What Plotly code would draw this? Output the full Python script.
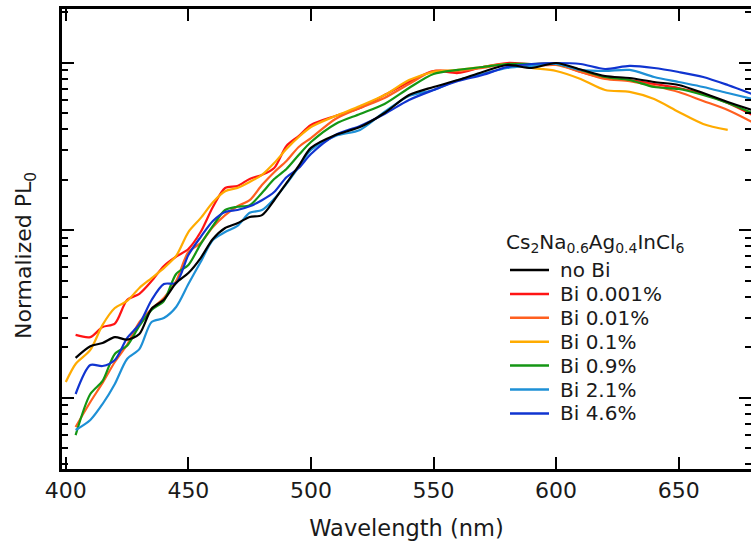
import plotly.graph_objects as go

wavelength = [400, 404, 410, 415, 420, 425, 430, 435, 440, 445, 450, 455, 460, 465, 470, 475, 480,
              485, 490, 495, 500, 510, 520, 530, 540, 550, 560, 570, 580, 590, 600, 610, 620, 630,
              640, 650, 660, 670, 680]

no_bi = [None, 0.0173, 0.0203, 0.0212, 0.0230, 0.0222, 0.0240, 0.0340, 0.0384, 0.0484, 0.0555,
         0.0682, 0.0885, 0.103, 0.110, 0.120, 0.123, 0.151, 0.191, 0.242, 0.310,
         0.370, 0.413, 0.501, 0.641, 0.716, 0.788, 0.880, 0.969, 0.930, 0.996, 0.910, 0.833,
         0.810, 0.767, 0.736, 0.659, 0.583, 0.522]
bi_0001 = [None, 0.0237, 0.0230, 0.0264, 0.0277, 0.0383, 0.0417, 0.0497, 0.0611, 0.0695, 0.0773,
           0.0975, 0.1376, 0.1786, 0.1836, 0.2023, 0.2138, 0.2351, 0.3184, 0.365, 0.425,
           0.481, 0.537, 0.641, 0.767, 0.892, 0.868, 0.943, 0.996, 0.982, 0.982, 0.880, 0.810,
           0.788, 0.746, 0.706, 0.650, 0.575, 0.488]
bi_001 = [None, 0.00668, 0.00942, 0.01225, 0.01633, 0.0207, 0.0283, 0.0339, 0.0394, 0.0497, 0.0741,
          0.0839, 0.1045, 0.123, 0.139, 0.151, 0.186, 0.222, 0.259, 0.314, 0.355,
          0.461, 0.537, 0.616, 0.746, 0.892, 0.892, 0.930, 0.982, 0.956, 0.969, 0.880, 0.799,
          0.777, 0.726, 0.668, 0.591, 0.522, 0.442]
bi_01 = [0.0124, 0.0159, 0.0193, 0.0272, 0.0343, 0.0378, 0.0452, 0.0518, 0.0594, 0.0702, 0.0975,
         0.118, 0.147, 0.171, 0.179, 0.194, 0.214, 0.252, 0.305, 0.360, 0.413,
         0.481, 0.551, 0.641, 0.788, 0.880, 0.905, 0.943, 0.982, 0.930, 0.892, 0.799, 0.687,
         0.670, 0.607, 0.508, 0.431, 0.397, None]
bi_09 = [None, 0.00598, 0.01052, 0.01259, 0.01824, 0.0204, 0.0268, 0.0334, 0.0378, 0.0548, 0.0620,
         0.0826, 0.106, 0.132, 0.138, 0.141, 0.167, 0.202, 0.232, 0.281, 0.336,
         0.431, 0.494, 0.567, 0.706, 0.856, 0.905, 0.943, 0.982, 0.982, 0.982, 0.905, 0.822,
         0.788, 0.716, 0.697, 0.641, 0.575, 0.501]
bi_21 = [None, 0.00641, 0.00736, 0.00917, 0.01208, 0.01703, 0.0195, 0.0283, 0.0299, 0.0348, 0.0477,
         0.0646, 0.0874, 0.0975, 0.106, 0.127, 0.132, 0.154, 0.189, 0.238, 0.301,
         0.365, 0.397, 0.508, 0.633, 0.687, 0.788, 0.856, 0.930, 0.956, 0.982, 0.905, 0.892,
         0.905, 0.822, 0.767, 0.716, 0.659, 0.607]
bi_46 = [None, 0.01052, 0.01567, 0.01546, 0.0168, 0.0227, 0.0275, 0.0383, 0.0477, 0.0484, 0.0711,
         0.0910, 0.1135, 0.1285, 0.132, 0.139, 0.151, 0.169, 0.207, 0.235, 0.285,
         0.370, 0.419, 0.494, 0.599, 0.687, 0.777, 0.845, 0.943, 0.982, 0.996, 0.982, 0.917,
         0.956, 0.930, 0.880, 0.822, 0.736, 0.650]

series_names = ["no Bi", "Bi 0.001%", "Bi 0.01%", "Bi 0.1%", "Bi 0.9%", "Bi 2.1%", "Bi 4.6%"]
series_values = [no_bi, bi_0001, bi_001, bi_01, bi_09, bi_21, bi_46]
series_colors = ["#000000", "#ff1414", "#ff5f1f", "#ffab00", "#149614", "#1e90d6", "#1034d0"]
legend_title = "Cs<sub>2</sub>Na<sub>0.6</sub>Ag<sub>0.4</sub>InCl<sub>6</sub>"
x_title = "Wavelength (nm)"
y_title = "Normalized PL<sub>0</sub>"

x_ticks = [400, 450, 500, 550, 600, 650]

W, H = 751, 552
ML, MR, MT, MB = 62, 0, 9, 83
PW, PH = W - ML - MR, H - MT - MB


def px(x):
    return (x - ML) / PW


def py(y):
    return (H - MB - y) / PH


fig = go.Figure()
draw_order = [1, 2, 3, 4, 5, 6, 0]
for i in draw_order:
    fig.add_trace(go.Scatter(
        x=wavelength, y=series_values[i], name=series_names[i], mode="lines",
        line=dict(color=series_colors[i], width=2.2, shape="spline", smoothing=0.8),
        showlegend=False,
    ))

FONT = "DejaVu Sans, Verdana, sans-serif"
TXT = "#1a1a1a"

# legend drawn as text + line samples
annotations = [dict(text=legend_title, x=px(504), y=py(243), xref="paper", yref="paper",
                    xanchor="left", yanchor="middle", showarrow=False,
                    font=dict(size=20, family=FONT, color=TXT))]
shapes = []
for k, (name, col) in enumerate(zip(series_names, series_colors)):
    yc = 270 + 23.9 * k
    shapes.append(dict(type="line", xref="paper", yref="paper", x0=px(510), x1=px(549),
                       y0=py(yc), y1=py(yc), line=dict(color=col, width=2.5)))
    annotations.append(dict(text=name, x=px(558), y=py(yc), xref="paper", yref="paper",
                            xanchor="left", yanchor="middle", showarrow=False,
                            font=dict(size=20, family=FONT, color=TXT)))

# y-axis title
annotations.append(dict(text=y_title, x=px(25), y=py(256), xref="paper", yref="paper",
                        xanchor="center", yanchor="middle", textangle=-90, showarrow=False,
                        font=dict(size=22, family=FONT, color=TXT)))

fig.update_layout(
    width=W, height=H,
    margin=dict(l=ML, r=MR, t=MT, b=MB, autoexpand=False),
    paper_bgcolor="white", plot_bgcolor="white",
    font=dict(family=FONT, color=TXT),
    showlegend=False,
    annotations=annotations,
    shapes=shapes,
    xaxis=dict(
        range=[398.45, 679.5], tickvals=x_ticks, ticks="inside", ticklen=12, tickwidth=2,
        tickcolor="black", showline=True, linecolor="black", linewidth=2.5, mirror="allticks",
        showgrid=False, zeroline=False, automargin=False,
        tickfont=dict(size=22, family=FONT, color=TXT),
        title=dict(text=x_title, font=dict(size=22.5, family=FONT), standoff=19),
    ),
    yaxis=dict(
        type="log", range=[-2.4257, 0.3206], tickvals=[0.01, 0.1, 1], ticks="inside", ticklen=12,
        tickwidth=2, tickcolor="black", showticklabels=False, showline=True, linecolor="black",
        linewidth=2.5, mirror="allticks", showgrid=False, zeroline=False, automargin=False,
        minor=dict(ticks="inside", ticklen=6, tickwidth=2, tickcolor="black", dtick="D1", showgrid=False),
    ),
)

fig.write_html(
    "out.html",
    config={"displayModeBar": False},
    post_script="document.body.style.margin='0';document.body.style.overflow='hidden';",
)
